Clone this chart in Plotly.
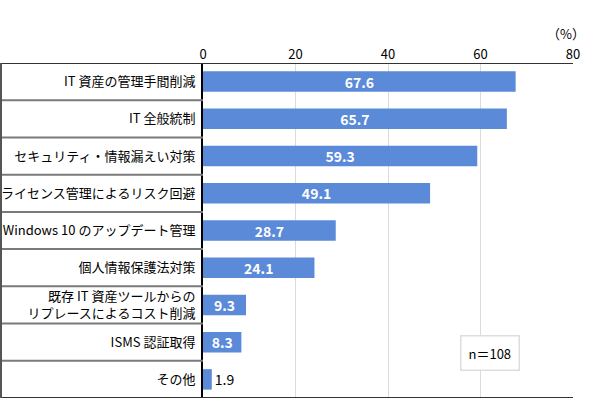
import plotly.graph_objects as go

# ---------------------------------------------------------------------------
# Data
# ---------------------------------------------------------------------------
CATEGORIES = [
    "IT 資産の管理手間削減",
    "IT 全般統制",
    "セキュリティ・情報漏えい対策",
    "ライセンス管理によるリスク回避",
    "Windows 10 のアップデート管理",
    "個人情報保護法対策",
    "既存 IT 資産ツールからの<br>リプレースによるコスト削減",
    "ISMS 認証取得",
    "その他",
]
VALUES = [67.6, 65.7, 59.3, 49.1, 28.7, 24.1, 9.3, 8.3, 1.9]
X_TICKS = [0, 20, 40, 60, 80]
N_LABEL = "n＝108"
UNIT_LABEL = "（%）"

BAR_COLOR = "#5a8ad8"
FONT = "Noto Sans CJK JP"

# layout in pixels
W, H = 590, 416
M_L, M_R, M_T, M_B = 203, 17, 63, 18
plot_w = W - M_L - M_R
plot_h = H - M_T - M_B
left_edge = -(M_L - 1) / plot_w   # table border at the far left

# bars under 5 % get their label outside
positions = ["outside" if v < 5 else "inside" for v in VALUES]
texts = [f"{v:.1f}" if p == "outside" else f"<b>{v:.1f}</b>"
         for v, p in zip(VALUES, positions)]

fig = go.Figure(go.Bar(
    x=VALUES,
    y=CATEGORIES,
    orientation="h",
    marker=dict(color=BAR_COLOR, line=dict(width=0)),
    width=0.55,
    text=texts,
    textposition=positions,
    insidetextanchor="middle",
    insidetextfont=dict(color="white", size=14, family=FONT),
    outsidetextfont=dict(color="black", size=14, family=FONT),
    cliponaxis=False,
    hoverinfo="skip",
))

# ---------------------------------------------------------------------------
# Table lines on the left
# ---------------------------------------------------------------------------
shapes = []
n = len(CATEGORIES)
for i in range(1, n):
    shapes.append(dict(
        type="line", xref="paper", yref="y",
        x0=left_edge, x1=0, y0=i - 0.5, y1=i - 0.5,
        line=dict(color="#7a7a7a", width=2),
    ))
for y in (-0.5, n - 0.5):
    shapes.append(dict(
        type="line", xref="paper", yref="y",
        x0=left_edge, x1=1, y0=y, y1=y,
        line=dict(color="#333333", width=2),
    ))
shapes.append(dict(
    type="line", xref="paper", yref="paper",
    x0=left_edge, x1=left_edge, y0=0, y1=1,
    line=dict(color="#555555", width=2),
))

fig.update_layout(
    width=W, height=H,
    margin=dict(l=M_L, r=M_R, t=M_T, b=M_B, autoexpand=False),
    plot_bgcolor="white",
    paper_bgcolor="white",
    font=dict(family=FONT, size=13, color="black"),
    showlegend=False,
    bargap=0.45,
    uniformtext=dict(minsize=14, mode="show"),
    shapes=shapes,
    annotations=[
        dict(text=UNIT_LABEL, xref="paper", yref="paper",
             x=1.0, y=1.0, xanchor="right", yanchor="middle",
             yshift=30, xshift=14, showarrow=False,
             font=dict(size=13, family=FONT)),
        dict(text=N_LABEL, xref="paper", yref="paper",
             x=(520 - M_L) / plot_w, y=(H - M_B - 371) / plot_h,
             showarrow=False, font=dict(size=13, family=FONT),
             bordercolor="#dddddd", borderwidth=1.5, borderpad=7,
             bgcolor="white"),
    ],
)

fig.update_xaxes(
    side="top",
    range=[0, 80],
    tickvals=X_TICKS,
    showgrid=True, gridcolor="#dadada", gridwidth=1,
    zeroline=False,
    showline=False,
    ticks="",
    tickfont=dict(size=13),
    fixedrange=True,
    automargin=False,
)

fig.update_yaxes(
    autorange=False,
    range=[n - 0.5, -0.5],
    showline=True, linecolor="black", linewidth=2,
    ticks="outside", ticklen=3, tickcolor="rgba(0,0,0,0)",
    tickfont=dict(size=13),
    showgrid=False,
    fixedrange=True,
    automargin=False,
)

# drop the default page margin so the figure sits at the window's corner
fig.write_html("out.html",
               config={"displayModeBar": False},
               post_script="document.body.style.margin='0px';")
